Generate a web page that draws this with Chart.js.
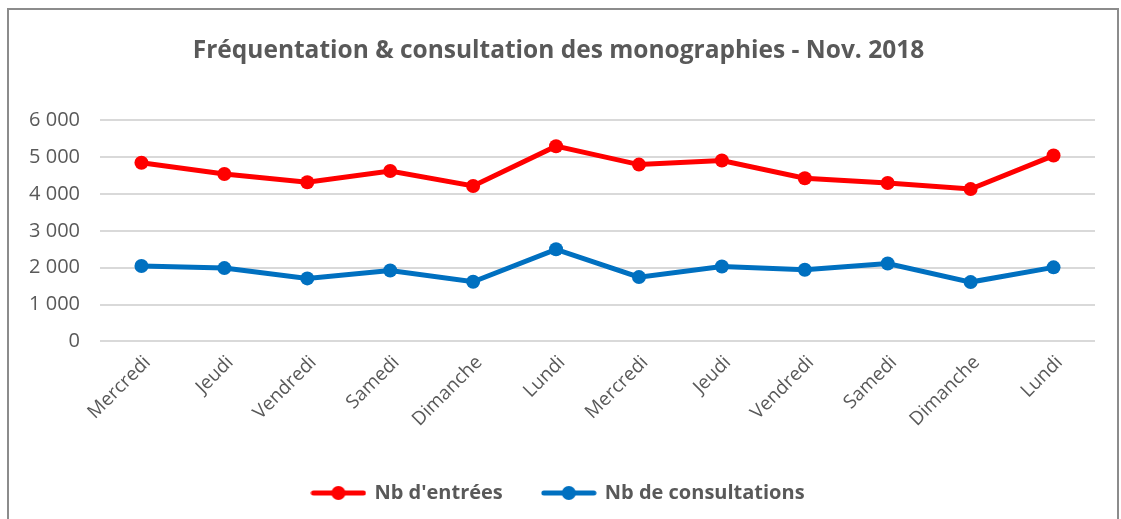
<!DOCTYPE html>
<html>
<head>
<meta charset="utf-8">
<script src="https://cdn.jsdelivr.net/npm/chart.js@4"></script>
<style>
  html, body { margin: 0; padding: 0; background: #fff; }
  #wrap { width: 1121px; height: 519px; }
</style>
</head>
<body>
<div id="wrap"><canvas id="ctx"></canvas></div>
<script>
const jours = ['Mercredi', 'Jeudi', 'Vendredi', 'Samedi', 'Dimanche', 'Lundi',
               'Mercredi', 'Jeudi', 'Vendredi', 'Samedi', 'Dimanche', 'Lundi'];
const entrees = [4850, 4545, 4320, 4625, 4220, 5300, 4800, 4910, 4430, 4300, 4135, 5045];
const consultations = [2045, 1990, 1710, 1925, 1620, 2500, 1745, 2035, 1945, 2115, 1610, 2010];
const yTicks = [0, 1000, 2000, 3000, 4000, 5000, 6000];

const grey = '#595959';
const fontFam = '"Open Sans", sans-serif';

// little picture for the legend: line with a dot in the middle
function legendMark(color) {
    let c = document.createElement('canvas');
    c.width = 56; c.height = 16;
    let g = c.getContext('2d');
    g.strokeStyle = color;
    g.lineWidth = 5;
    g.lineCap = 'round';
    g.beginPath();
    g.moveTo(3, 8); g.lineTo(53, 8);
    g.stroke();
    g.fillStyle = color;
    g.beginPath();
    g.arc(28, 8, 7, 0, Math.PI * 2);
    g.fill();
    return c;
}

const frame = {
    id: 'frame',
    beforeDraw(chart) {
        let c = chart.ctx;
        c.save();
        c.fillStyle = '#fff';
        c.fillRect(0, 0, chart.width, chart.height);
        c.strokeStyle = '#8c8c8c';
        c.lineWidth = 2;
        c.strokeRect(8, 9, 1110, 530);
        c.restore();
    }
};

let myChart = new Chart(document.getElementById('ctx'), {
    type: 'line',
    data: {
        labels: jours,
        datasets: [{
            label: "Nb d'entrées",
            data: entrees,
            borderColor: '#FF0000',
            backgroundColor: '#FF0000',
            borderWidth: 5,
            pointRadius: 7,
            pointHoverRadius: 7,
            pointBorderWidth: 0,
            tension: 0
        }, {
            label: 'Nb de consultations',
            data: consultations,
            borderColor: '#0070C0',
            backgroundColor: '#0070C0',
            borderWidth: 5,
            pointRadius: 7,
            pointHoverRadius: 7,
            pointBorderWidth: 0,
            tension: 0
        }]
    },
    options: {
        responsive: true,
        maintainAspectRatio: false,
        animation: false,
        layout: { padding: { left: 22, right: 26, top: 14, bottom: 6 } },
        plugins: {
            title: {
                display: true,
                text: 'Fréquentation & consultation des monographies - Nov. 2018',
                color: grey,
                font: { family: fontFam, size: 24.5, weight: 'bold' },
                padding: { top: 22, bottom: 55 }
            },
            legend: {
                position: 'bottom',
                labels: {
                    color: grey,
                    font: { family: fontFam, size: 20, weight: 'bold' },
                    usePointStyle: true,
                    pointStyleWidth: 52,
                    boxHeight: 16,
                    padding: 40,
                    generateLabels(chart) {
                        return chart.data.datasets.map((ds, i) => ({
                            text: ds.label,
                            fontColor: grey,
                            pointStyle: legendMark(ds.borderColor),
                            lineWidth: 0,
                            strokeStyle: 'transparent',
                            fillStyle: ds.borderColor,
                            datasetIndex: i
                        }));
                    }
                }
            },
            tooltip: { enabled: false }
        },
        scales: {
            x: {
                offset: true,
                grid: { display: false },
                border: { display: false },
                afterFit(scale) { scale.height += 10; },
                ticks: {
                    color: grey,
                    font: { family: fontFam, size: 19 },
                    maxRotation: 45,
                    minRotation: 45,
                    padding: 2,
                    labelOffset: 6
                }
            },
            y: {
                min: 0,
                max: 6000,
                afterBuildTicks(scale) {
                    scale.ticks = yTicks.map(v => ({ value: v }));
                },
                afterFit(scale) { scale.width = 78; },
                grid: { color: '#d9d9d9', lineWidth: 2, drawTicks: false },
                border: { display: false },
                ticks: {
                    color: grey,
                    font: { family: fontFam, size: 20 },
                    padding: 20,
                    callback: v => v.toLocaleString('fr-FR').replace(/\s/g, ' ')
                }
            }
        }
    },
    plugins: [frame]
});
</script>
</body>
</html>
